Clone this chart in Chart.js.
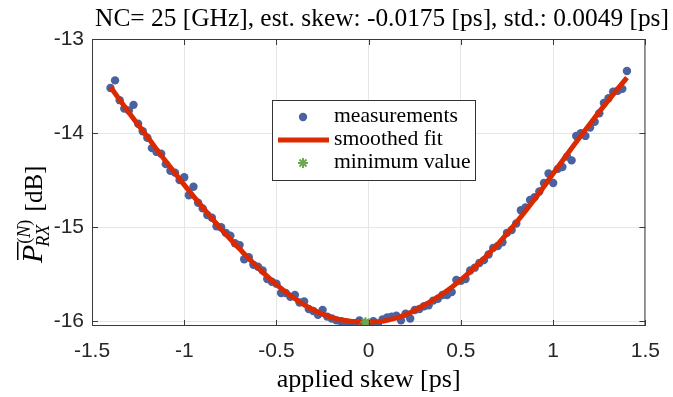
<!DOCTYPE html>
<html><head><meta charset="utf-8">
<script src="https://cdn.jsdelivr.net/npm/chart.js@4.4.1/dist/chart.umd.min.js"></script>
<style>html,body{margin:0;padding:0;background:#fff;}#wrap{width:673px;height:397px;}</style>
</head><body><div id="wrap"><canvas id="c" width="673" height="397"></canvas></div>
<script>
const titleText = "NC= 25 [GHz], est. skew: -0.0175 [ps], std.: 0.0049 [ps]";
const xLabel = "applied skew [ps]";
const xTicks = [-1.5, -1, -0.5, 0, 0.5, 1, 1.5];
const yTicks = [-16, -15, -14, -13];
const legendLabels = ["measurements", "smoothed fit", "minimum value"];

const skew = [-1.400,-1.375,-1.350,-1.325,-1.300,-1.275,-1.250,-1.225,-1.200,-1.175,-1.150,-1.125,-1.100,-1.075,-1.050,-1.025,
-1.000,-0.975,-0.950,-0.925,-0.900,-0.875,-0.850,-0.825,-0.800,-0.775,-0.750,-0.725,-0.700,-0.675,-0.650,-0.625,
-0.600,-0.575,-0.550,-0.525,-0.500,-0.475,-0.450,-0.425,-0.400,-0.375,-0.350,-0.325,-0.300,-0.275,-0.250,-0.225,
-0.200,-0.175,-0.150,-0.125,-0.100,-0.075,-0.050,-0.025,0.000,0.025,0.050,0.075,0.100,0.125,0.150,0.175,
0.200,0.225,0.250,0.275,0.300,0.325,0.350,0.375,0.400,0.425,0.450,0.475,0.500,0.525,0.550,0.575,
0.600,0.625,0.650,0.675,0.700,0.725,0.750,0.775,0.800,0.825,0.850,0.875,0.900,0.925,0.950,0.975,
1.000,1.025,1.050,1.075,1.100,1.125,1.150,1.175,1.200,1.225,1.250,1.275,1.300,1.325,1.350,1.375,1.400];
const power = [-13.52,-13.44,-13.65,-13.74,-13.76,-13.70,-13.90,-13.98,-14.05,-14.16,-14.20,-14.22,-14.33,-14.40,-14.42,-14.50,
-14.47,-14.66,-14.57,-14.74,-14.80,-14.87,-14.90,-14.99,-15.00,-15.06,-15.09,-15.17,-15.19,-15.34,-15.32,-15.40,
-15.42,-15.46,-15.55,-15.58,-15.60,-15.70,-15.70,-15.74,-15.72,-15.80,-15.79,-15.87,-15.89,-15.93,-15.88,-15.95,
-15.97,-15.99,-16.00,-16.01,-16.05,-16.02,-15.99,-16.02,-16.03,-16.00,-16.03,-15.98,-15.96,-15.95,-15.94,-15.99,
-15.92,-15.97,-15.88,-15.87,-15.84,-15.83,-15.78,-15.76,-15.72,-15.72,-15.69,-15.56,-15.57,-15.55,-15.46,-15.43,
-15.38,-15.35,-15.29,-15.22,-15.20,-15.16,-15.06,-15.03,-14.96,-14.82,-14.79,-14.71,-14.68,-14.62,-14.53,-14.43,
-14.53,-14.38,-14.36,-14.25,-14.29,-14.03,-14.00,-14.03,-13.94,-13.88,-13.79,-13.68,-13.63,-13.56,-13.55,-13.53,-13.34];

const fitX = [-1.4,-1.3,-1.2,-1.1,-1.0,-0.9,-0.8,-0.7,-0.6,-0.5,-0.4,-0.3,-0.2,-0.1,0.0,0.1,0.2,0.3,0.4,0.5,0.6,0.7,0.8,0.9,1.0,1.1,1.2,1.3,1.4];
const fitY = [-13.51,-13.78,-14.04,-14.30,-14.55,-14.79,-15.02,-15.23,-15.43,-15.61,-15.76,-15.88,-15.96,-16.00,-16.01,-15.99,-15.93,-15.83,-15.71,-15.56,-15.38,-15.18,-14.95,-14.70,-14.43,-14.16,-13.90,-13.65,-13.41];

const minX = [-0.0175];
const minY = [-16.01];

const C_PTS = '#4a63a0', C_FIT = '#dc2a00', C_MIN = '#6aa84f';
const SERIF = '"Liberation Serif", "DejaVu Serif", serif';
const SANS = '"Liberation Sans", Arial, sans-serif';

function fitFont(ctx, text, style, target) {
  ctx.font = style + ' 20px ' + SERIF;
  const w = ctx.measureText(text).width;
  return 20 * target / w;
}

const deco = {
  id: 'deco',
  afterDraw(chart) {
    const ctx = chart.ctx, a = chart.chartArea, xs = chart.scales.x, ys = chart.scales.y;
    ctx.save();
    // box + inward ticks
    ctx.strokeStyle = '#3a3a3a'; ctx.lineWidth = 1;
    ctx.strokeRect(a.left + 0.5, a.top + 0.5, a.right - a.left - 1, a.bottom - a.top - 1);
    ctx.beginPath();
    xTicks.forEach(v => {
      const px = Math.round(xs.getPixelForValue(v)) + 0.5;
      ctx.moveTo(px, a.bottom); ctx.lineTo(px, a.bottom - 6);
      ctx.moveTo(px, a.top); ctx.lineTo(px, a.top + 6);
    });
    yTicks.forEach(v => {
      const py = Math.round(ys.getPixelForValue(v)) + 0.5;
      ctx.moveTo(a.left, py); ctx.lineTo(a.left + 6, py);
      ctx.moveTo(a.right, py); ctx.lineTo(a.right - 6, py);
    });
    ctx.stroke();

    // title
    ctx.fillStyle = '#000';
    let fs = fitFont(ctx, titleText, '', 574);
    ctx.font = fs + 'px ' + SERIF;
    ctx.textAlign = 'center'; ctx.textBaseline = 'alphabetic';
    ctx.fillText(titleText, 382, 26);

    // x label
    fs = fitFont(ctx, xLabel, '', 184);
    ctx.font = fs + 'px ' + SERIF;
    ctx.fillText(xLabel, (a.left + a.right) / 2, 387);

    // y label (rotated)
    ctx.save();
    ctx.translate(42, 263);
    ctx.rotate(-Math.PI / 2);
    ctx.textAlign = 'left';
    ctx.font = 'italic 30px ' + SERIF;
    ctx.fillText('P', 0, 0);
    const wP = ctx.measureText('P').width;
    ctx.fillRect(3, -25, wP, 1.5);
    ctx.font = '18px ' + SERIF;
    ctx.fillText('(', wP + 1, -12);
    let wx = wP + 1 + ctx.measureText('(').width;
    ctx.font = 'italic 18px ' + SERIF;
    ctx.fillText('N', wx, -12);
    wx += ctx.measureText('N').width;
    ctx.font = '18px ' + SERIF;
    ctx.fillText(')', wx, -12);
    wx += ctx.measureText(')').width;
    ctx.font = 'italic 18px ' + SERIF;
    ctx.fillText('RX', wP - 2, 7);
    const wR = wP - 2 + ctx.measureText('RX').width;
    ctx.font = '25px ' + SERIF;
    ctx.fillText(' [dB]', Math.max(wx, wR) + 2, 0);
    ctx.restore();

    // legend
    const lx = 272, ly = 100, lw = 203, lh = 80;
    ctx.fillStyle = '#fff';
    ctx.fillRect(lx, ly, lw, lh);
    ctx.strokeStyle = '#333'; ctx.lineWidth = 1;
    ctx.strokeRect(lx + 0.5, ly + 0.5, lw, lh);
    const rows = [117, 140, 163];
    fs = fitFont(ctx, legendLabels[0], '', 124);
    ctx.font = fs + 'px ' + SERIF;
    ctx.fillStyle = '#000'; ctx.textAlign = 'left'; ctx.textBaseline = 'middle';
    legendLabels.forEach((t, i) => ctx.fillText(t, 334, rows[i] - 1));
    ctx.fillStyle = C_PTS;
    ctx.beginPath(); ctx.arc(303, rows[0], 4.2, 0, Math.PI * 2); ctx.fill();
    ctx.strokeStyle = C_FIT; ctx.lineWidth = 5;
    ctx.beginPath(); ctx.moveTo(278, rows[1]); ctx.lineTo(329, rows[1]); ctx.stroke();
    ctx.strokeStyle = C_MIN; ctx.lineWidth = 2;
    ctx.beginPath();
    for (let k = 0; k < 4; k++) {
      const ang = k * Math.PI / 4;
      ctx.moveTo(303 - 5 * Math.cos(ang), rows[2] - 5 * Math.sin(ang));
      ctx.lineTo(303 + 5 * Math.cos(ang), rows[2] + 5 * Math.sin(ang));
    }
    ctx.stroke();
    ctx.restore();
  }
};

new Chart(document.getElementById('c'), {
  type: 'scatter',
  data: {
    datasets: [
      { label: legendLabels[2], data: minX.map((x, i) => ({ x, y: minY[i] })), order: 0,
        pointStyle: 'star', pointRadius: 5, borderColor: C_MIN, backgroundColor: C_MIN, borderWidth: 2 },
      { label: legendLabels[1], data: fitX.map((x, i) => ({ x, y: fitY[i] })), order: 1, showLine: true,
        tension: 0.4, borderColor: C_FIT, borderWidth: 5, pointRadius: 0, borderCapStyle: 'butt' },
      { label: legendLabels[0], data: skew.map((x, i) => ({ x, y: power[i] })), order: 2,
        pointRadius: 4.2, backgroundColor: C_PTS, borderColor: C_PTS, borderWidth: 0 }
    ]
  },
  options: {
    responsive: false, animation: false, devicePixelRatio: 1,
    layout: { padding: { top: 39, right: 24, left: 0, bottom: 0 } },
    plugins: { legend: { display: false }, title: { display: false }, tooltip: { enabled: false } },
    scales: {
      x: {
        type: 'linear', min: -1.5, max: 1.5,
        afterBuildTicks: s => { s.ticks = xTicks.map(v => ({ value: v })); },
        afterFit: s => { s.height = 71; },
        grid: { color: '#e6e6e6', lineWidth: 1, drawTicks: false },
        border: { display: false },
        ticks: { color: '#262626', font: { family: SANS, size: 21 }, padding: 13, maxRotation: 0,
                 callback: v => String(v) }
      },
      y: {
        type: 'linear', min: -16.05, max: -13,
        afterBuildTicks: s => { s.ticks = yTicks.map(v => ({ value: v })); },
        afterFit: s => { s.width = 92; },
        grid: { color: '#e6e6e6', lineWidth: 1, drawTicks: false },
        border: { display: false },
        ticks: { color: '#262626', font: { family: SANS, size: 21 }, padding: 8,
                 callback: v => String(v) }
      }
    }
  },
  plugins: [deco]
});
</script></body></html>
